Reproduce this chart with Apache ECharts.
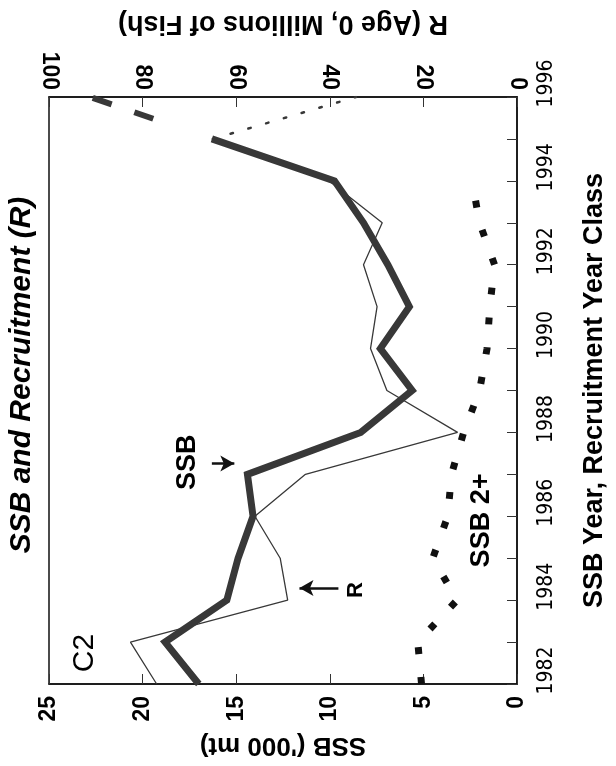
<!DOCTYPE html>
<html>
<head>
<meta charset="utf-8">
<script src="https://cdn.jsdelivr.net/npm/echarts@6/dist/echarts.min.js"></script>
<style>
html,body{margin:0;padding:0;background:#fff;}
#chart{width:616px;height:766px;}
</style>
</head>
<body>
<div id="chart"></div>
<script>
// ---- data ----
const years = [1982,1983,1984,1985,1986,1987,1988,1989,1990,1991,1992,1993,1994,1995];
const ssb = [17.0,18.8,15.5,14.9,14.1,14.4,8.35,5.6,7.3,5.75,6.9,8.2,9.75,16.3];
const recruits = [77,82.6,49,50.6,56,45.2,12.7,27.8,31.3,29.9,32.8,28.8,40.2,65];
const ssb2Years = [1982,1983,1984,1985,1986,1987,1988,1989,1990,1991,1992,1993,1994];
const ssb2 = [5.1,5.3,3.2,4.5,3.7,3.5,2.85,2.0,1.6,1.45,1.2,2.0,2.4];
const projYears = [1995,1996];
const ssbProj = [16.3,22.8];
const rProj = [65,34.4];
const ssbTicks = [0,5,10,15,20,25];
const rTicks = [0,20,40,60,80,100];
const yearTicks = [1982,1984,1986,1988,1990,1992,1994,1996];
// annotation anchors in data space [SSB, year]
const notes = [
  {name:'SSB', at:[17.6,1987.29], size:27, weight:'bold'},
  {name:'R', at:[8.6,1984.24], size:22, weight:'bold'},
  {name:'SSB 2+', at:[1.87,1985.9], size:27, weight:'bold'},
  {name:'C2', at:[23.1,1982.74], size:30, weight:'normal'}
];
const arrows = [
  [[16.3,1987.26],[15.1,1987.26]],
  [[9.54,1984.29],[11.62,1984.29]]
];

const FONT = '"Liberation Sans", Arial, Helvetica, sans-serif';
const INK = '#383838';
const pairs = (xs, ys) => xs.map((v,i)=>[v, ys[i]]);

const chart = echarts.init(document.getElementById('chart'), null, {renderer:'canvas'});
const option = {
  backgroundColor:'#fff',
  animation:false,
  grid:{left:49,right:85,top:97,bottom:82,show:true,borderColor:'#111',borderWidth:1.5,backgroundColor:'transparent'},
  graphic:[{
    type:'text', x:22, y:375, rotation:Math.PI/2,
    style:{text:'SSB and Recruitment (R)', font:'italic bold 30px '+FONT, fill:'#000', textAlign:'center', textVerticalAlign:'middle'}
  }],
  xAxis:[{
    type:'value', position:'bottom', min:0, max:25, interval:5, inverse:true,
    name:"SSB ('000 mt)", nameLocation:'middle', nameRotate:180, nameGap:48,
    nameTextStyle:{fontFamily:FONT, fontWeight:'bold', fontSize:26, color:'#000'},
    axisLine:{show:true, lineStyle:{color:'#111', width:1.5}},
    axisTick:{show:true, inside:true, length:10, lineStyle:{color:'#333', width:1}},
    splitLine:{show:false},
    axisLabel:{rotate:90, margin:12, fontFamily:FONT, fontWeight:'bold', fontSize:23, color:'#000',
      showMinLabel:true, showMaxLabel:true, formatter:v=>ssbTicks.includes(v)?String(v):''}
  },{
    type:'value', position:'top', min:0, max:100, interval:20, inverse:true,
    name:'R (Age 0, Millions of Fish)', nameLocation:'middle', nameRotate:180, nameGap:60,
    nameTextStyle:{fontFamily:FONT, fontWeight:'bold', fontSize:27, color:'#000'},
    axisLine:{show:true, lineStyle:{color:'#111', width:1.5}},
    axisTick:{show:true, inside:true, length:10, lineStyle:{color:'#333', width:1}},
    splitLine:{show:false},
    axisLabel:{rotate:90, margin:7, fontFamily:FONT, fontWeight:'bold', fontSize:23, color:'#000',
      showMinLabel:true, showMaxLabel:true, formatter:v=>rTicks.includes(v)?String(v):''}
  }],
  yAxis:[{
    type:'value', position:'right', min:1982, max:1996, interval:1,
    name:'SSB Year, Recruitment Year Class', nameLocation:'middle', nameRotate:90, nameGap:64,
    nameTextStyle:{fontFamily:FONT, fontWeight:'bold', fontSize:27, color:'#000'},
    axisLine:{show:true, lineStyle:{color:'#111', width:1.5}},
    axisTick:{show:true, inside:true, length:10, lineStyle:{color:'#333', width:1}},
    splitLine:{show:false},
    axisLabel:{rotate:90, margin:19, padding:[0,0,0,27], fontFamily:'"Liberation Sans Narrow", "DejaVu Sans Condensed", '+FONT, fontSize:21, color:'#000',
      showMinLabel:true, showMaxLabel:true, formatter:v=>yearTicks.includes(v)?String(v):''}
  }],
  series:[
    {name:'R', type:'line', xAxisIndex:1, yAxisIndex:0, data:pairs(recruits, years),
     symbol:'none', lineStyle:{color:INK, width:1.3}, z:3},
    {name:'R projection', type:'line', xAxisIndex:1, yAxisIndex:0, data:pairs(rProj, projYears),
     symbol:'none', lineStyle:{color:INK, width:2.5, type:[2.5,16], cap:'round'}, z:3},
    {name:'SSB', type:'line', xAxisIndex:0, yAxisIndex:0, data:pairs(ssb, years),
     symbol:'none', lineStyle:{color:INK, width:7, join:'miter'}, z:4},
    {name:'SSB projection', type:'line', xAxisIndex:0, yAxisIndex:0, data:pairs(ssbProj, projYears),
     symbol:'none', lineStyle:{color:INK, width:6, type:[0,62,20,24,20,200]}, z:4},
    {name:'SSB 2+', type:'line', xAxisIndex:0, yAxisIndex:0, data:pairs(ssb2, ssb2Years),
     symbol:'none', lineStyle:{color:'#111', width:7, type:[7,23], cap:'butt'}, z:4},
    {name:'notes', type:'scatter', xAxisIndex:0, yAxisIndex:0, symbolSize:1,
     itemStyle:{color:'#fff', opacity:1}, silent:true, z:6,
     data:notes.map(n=>({value:n.at, name:n.name,
       label:{show:true, position:'inside', rotate:90, formatter:n.name, opacity:1,
              fontFamily:FONT, fontWeight:n.weight, fontSize:n.size, color:'#000', textBorderWidth:0}})),
     markLine:{silent:true, symbol:['none','arrow'], symbolSize:[12,14], precision:4,
       label:{show:false}, lineStyle:{color:'#111', width:2.5, type:'solid', opacity:1},
       data:arrows.map(a=>[{coord:a[0]},{coord:a[1]}])}
    }
  ]
};
chart.setOption(option);
</script>
</body>
</html>
